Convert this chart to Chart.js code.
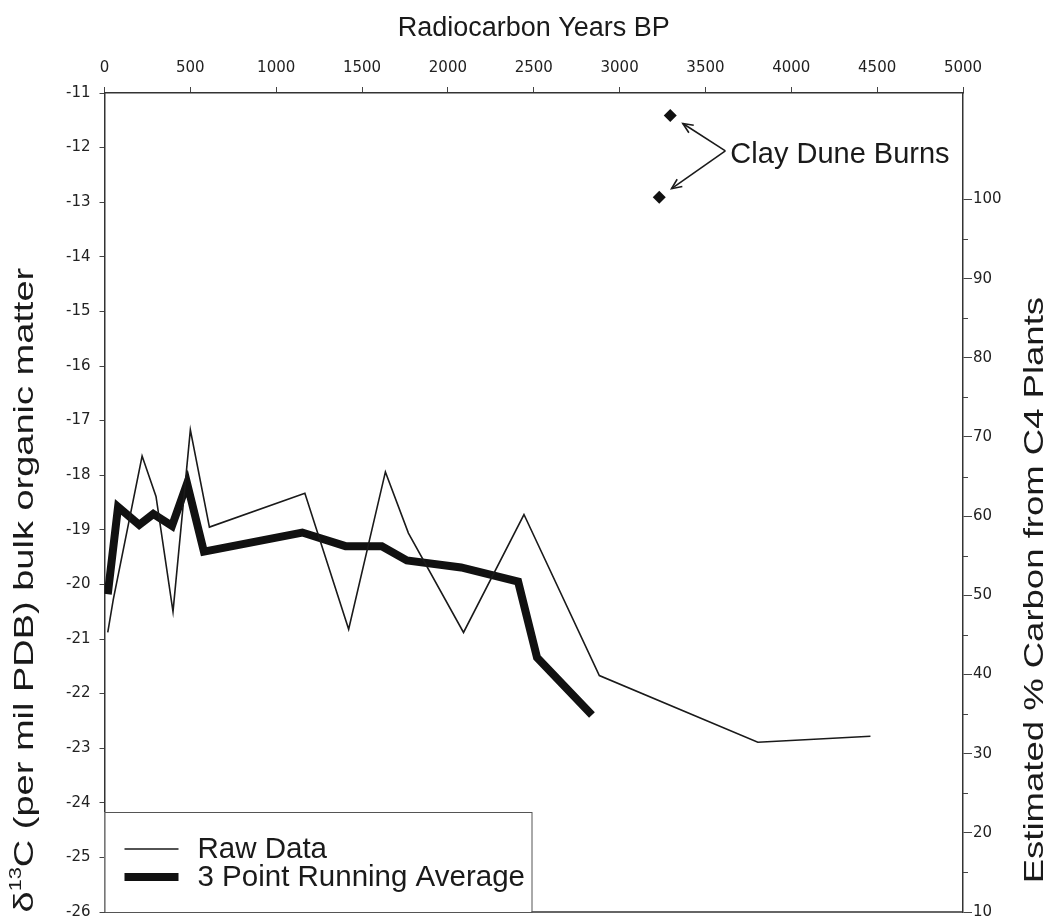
<!DOCTYPE html>
<html>
<head>
<meta charset="utf-8">
<script src="https://cdn.jsdelivr.net/npm/chart.js@4.4.1/dist/chart.umd.min.js"></script>
<style>
  html, body { margin: 0; padding: 0; background: #fff; }
  #c { display: block; }
</style>
</head>
<body>
<canvas id="c" width="1050" height="921"></canvas>
<script>
// Sample ages, radiocarbon years BP
const rawYears  = [19, 51, 219, 300, 399, 500, 611, 1167, 1422, 1636, 1770, 2091, 2443, 2882, 3805, 4461];
// δ13C of bulk organic matter, per mil PDB
const rawDelta  = [-20.88, -20.28, -17.65, -18.39, -20.50, -17.17, -18.95, -18.33, -20.82, -17.94, -19.06, -20.88, -18.72, -21.67, -22.89, -22.78];

// 3 point running average
const avgYears  = [19, 79, 202, 284, 393, 481, 579, 1152, 1404, 1615, 1761, 2077, 2409, 2519, 2839];
const avgDelta  = [-20.18, -18.58, -18.91, -18.71, -18.93, -18.15, -19.40, -19.05, -19.30, -19.30, -19.56, -19.69, -19.95, -21.34, -22.39];

// Clay Dune burn samples
const burnYears = [3295, 3231];
const burnDelta = [-11.41, -12.91];

// Axis ticks
const yearTicks  = [0, 500, 1000, 1500, 2000, 2500, 3000, 3500, 4000, 4500, 5000];
const deltaTicks = [-26, -25, -24, -23, -22, -21, -20, -19, -18, -17, -16, -15, -14, -13, -12, -11];
const c4Labels   = [10, 20, 30, 40, 50, 60, 70, 80, 90, 100];
const c4Minor    = [15, 25, 35, 45, 55, 65, 75, 85, 95];

// δ13C end members used to convert to % carbon from C4 plants
const c4DeltaEnds   = [-26, -12.95];
const c4PercentEnds = [10, 100];

const deltaMin = -26, deltaMax = -11;
const toPercent = d => c4PercentEnds[0] +
  (d - c4DeltaEnds[0]) * (c4PercentEnds[1] - c4PercentEnds[0]) / (c4DeltaEnds[1] - c4DeltaEnds[0]);

const pts = (xs, ys) => xs.map((x, i) => ({ x: x, y: ys[i] }));

const INK = '#1a1a1a';
const SANS = '"Liberation Sans", Arial, sans-serif';
const TICKFONT = { family: '"DejaVu Sans", Verdana, sans-serif', size: 15 };

// Draws a line of text made of pieces (for the superscript), stretched to a length
function drawTextRun(ctx, parts, cx, cy, angle, targetLen) {
  let total = 0;
  parts.forEach(p => { ctx.font = p.size + 'px ' + SANS; p.w = ctx.measureText(p.text).width; total += p.w; });
  ctx.save();
  ctx.translate(cx, cy);
  ctx.rotate(angle);
  if (targetLen) ctx.scale(targetLen / total, 1);
  ctx.fillStyle = INK;
  ctx.textBaseline = 'middle';
  ctx.textAlign = 'left';
  let x = -total / 2;
  parts.forEach(p => {
    ctx.font = p.size + 'px ' + SANS;
    ctx.fillText(p.text, x, -(p.rise || 0));
    x += p.w;
  });
  ctx.restore();
}

function drawArrow(ctx, x0, y0, x1, y1) {
  ctx.beginPath(); ctx.moveTo(x0, y0); ctx.lineTo(x1, y1); ctx.stroke();
  const a = Math.atan2(y1 - y0, x1 - x0), L = 11, w = 0.42;
  ctx.beginPath();
  ctx.moveTo(x1 - L * Math.cos(a - w), y1 - L * Math.sin(a - w));
  ctx.lineTo(x1, y1);
  ctx.lineTo(x1 - L * Math.cos(a + w), y1 - L * Math.sin(a + w));
  ctx.stroke();
}

const burnLabel = { text: 'Clay Dune Burns', x: 3616, y: -12.06 };

const decorations = {
  id: 'decorations',
  afterDatasetsDraw(chart) {
    const ctx = chart.ctx, a = chart.chartArea;
    const xs = chart.scales.x, ys = chart.scales.y, y2 = chart.scales.y2;
    const h = a.bottom - a.top;

    // bottom edge of the plot frame, short minor ticks on the % axis
    ctx.save();
    ctx.strokeStyle = '#333'; ctx.lineWidth = 1.5;
    ctx.beginPath(); ctx.moveTo(a.left, a.bottom); ctx.lineTo(a.right, a.bottom); ctx.stroke();
    ctx.strokeStyle = '#444'; ctx.lineWidth = 1;
    c4Minor.forEach(v => {
      const py = Math.round(y2.getPixelForValue(v)) + 0.5;
      ctx.beginPath(); ctx.moveTo(a.right, py); ctx.lineTo(a.right + 5, py); ctx.stroke();
    });
    ctx.restore();

    // axis titles
    drawTextRun(ctx, [{ text: 'Radiocarbon Years BP', size: 27 }], (a.left + a.right) / 2, 29, 0);
    drawTextRun(ctx, [
      { text: 'δ', size: 28 },
      { text: '13', size: 16, rise: 9 },
      { text: 'C (per mil PDB) bulk organic matter', size: 28 }
    ], a.left - 79, a.top + 0.607 * h, -Math.PI / 2, 0.787 * h);
    drawTextRun(ctx, [{ text: 'Estimated % Carbon from C4 Plants', size: 28 }],
      a.right + 72, a.top + 0.607 * h, -Math.PI / 2, 0.716 * h);

    // annotation for the burn samples
    const vx = xs.getPixelForValue(burnLabel.x), vy = ys.getPixelForValue(burnLabel.y);
    ctx.save();
    ctx.strokeStyle = INK; ctx.lineWidth = 1.6;
    const meta = chart.getDatasetMeta(2);
    meta.data.forEach(pt => {
      const dx = pt.x - vx, dy = pt.y - vy, d = Math.hypot(dx, dy);
      drawArrow(ctx, vx, vy, vx + dx * (d - 15) / d, vy + dy * (d - 15) / d);
    });
    ctx.fillStyle = INK;
    ctx.font = '29px ' + SANS;
    ctx.textBaseline = 'middle';
    ctx.fillText(burnLabel.text, vx + 5, vy + 4);
    ctx.restore();

    // legend box in the lower left corner
    const bx = a.left, bw = 427, bh = 100, by = a.bottom - bh;
    ctx.save();
    ctx.fillStyle = '#fff';
    ctx.fillRect(bx, by, bw, bh);
    ctx.strokeStyle = '#555'; ctx.lineWidth = 1;
    ctx.strokeRect(bx + 0.5, by + 0.5, bw, bh);
    const rows = [0, 1].map(i => chart.data.datasets[i]);
    rows.forEach((ds, i) => {
      const ry = by + 37 + i * 28;
      ctx.strokeStyle = ds.borderColor;
      ctx.lineWidth = ds.borderWidth;
      ctx.beginPath(); ctx.moveTo(bx + 20, ry); ctx.lineTo(bx + 74, ry); ctx.stroke();
      ctx.fillStyle = INK;
      ctx.font = '29.5px ' + SANS;
      ctx.textBaseline = 'middle';
      ctx.fillText(ds.label, bx + 93, ry + 1);
    });
    ctx.restore();
  }
};

const setTicks = values => scale => { scale.ticks = values.map(v => ({ value: v })); };
// fixed axis thickness, no extra room reserved for the end labels
const fixWidth = w => s => { s.width = w; s.paddingTop = 0; s.paddingBottom = 0; };

new Chart(document.getElementById('c'), {
  type: 'line',
  data: {
    datasets: [
      { label: 'Raw Data', data: pts(rawYears, rawDelta), borderColor: INK, borderWidth: 1.6,
        pointRadius: 0, tension: 0, yAxisID: 'y' },
      { label: '3 Point Running Average', data: pts(avgYears, avgDelta), borderColor: '#111', borderWidth: 8,
        pointRadius: 0, tension: 0, borderJoinStyle: 'miter', borderCapStyle: 'butt', yAxisID: 'y' },
      { label: 'Clay Dune Burns', data: pts(burnYears, burnDelta), showLine: false, pointStyle: 'rectRot',
        pointRadius: 6.5, backgroundColor: '#111', borderWidth: 0, yAxisID: 'y' }
    ]
  },
  options: {
    responsive: false,
    animation: false,
    devicePixelRatio: 1,
    layout: { padding: { top: 0, bottom: 9, left: 0, right: 0 } },
    plugins: { legend: { display: false }, tooltip: { enabled: false } },
    scales: {
      x: {
        type: 'linear', position: 'top', min: 0, max: 5000,
        afterBuildTicks: setTicks(yearTicks),
        afterFit: s => { s.height = 93; s.paddingLeft = 0; s.paddingRight = 0; },
        ticks: { font: TICKFONT, color: '#222', padding: 10, maxRotation: 0, callback: v => String(v) },
        grid: { drawOnChartArea: false, tickLength: 6, tickColor: '#444', tickWidth: 1 },
        border: { color: '#333', width: 1.5 }
      },
      y: {
        type: 'linear', position: 'left', min: deltaMin, max: deltaMax,
        afterBuildTicks: setTicks(deltaTicks),
        afterFit: fixWidth(104.5),
        ticks: { font: TICKFONT, color: '#222', padding: 9, callback: v => String(v) },
        grid: { drawOnChartArea: false, tickLength: 5, tickColor: '#444', tickWidth: 1 },
        border: { color: '#333', width: 1.5 }
      },
      y2: {
        type: 'linear', position: 'right', min: toPercent(deltaMin), max: toPercent(deltaMax),
        afterBuildTicks: setTicks(c4Labels),
        afterFit: fixWidth(87),
        ticks: { font: TICKFONT, color: '#222', padding: 1, callback: v => String(v) },
        grid: { drawOnChartArea: false, tickLength: 9, tickColor: '#444', tickWidth: 1 },
        border: { color: '#333', width: 1.5 }
      }
    }
  },
  plugins: [decorations]
});
</script>
</body>
</html>
